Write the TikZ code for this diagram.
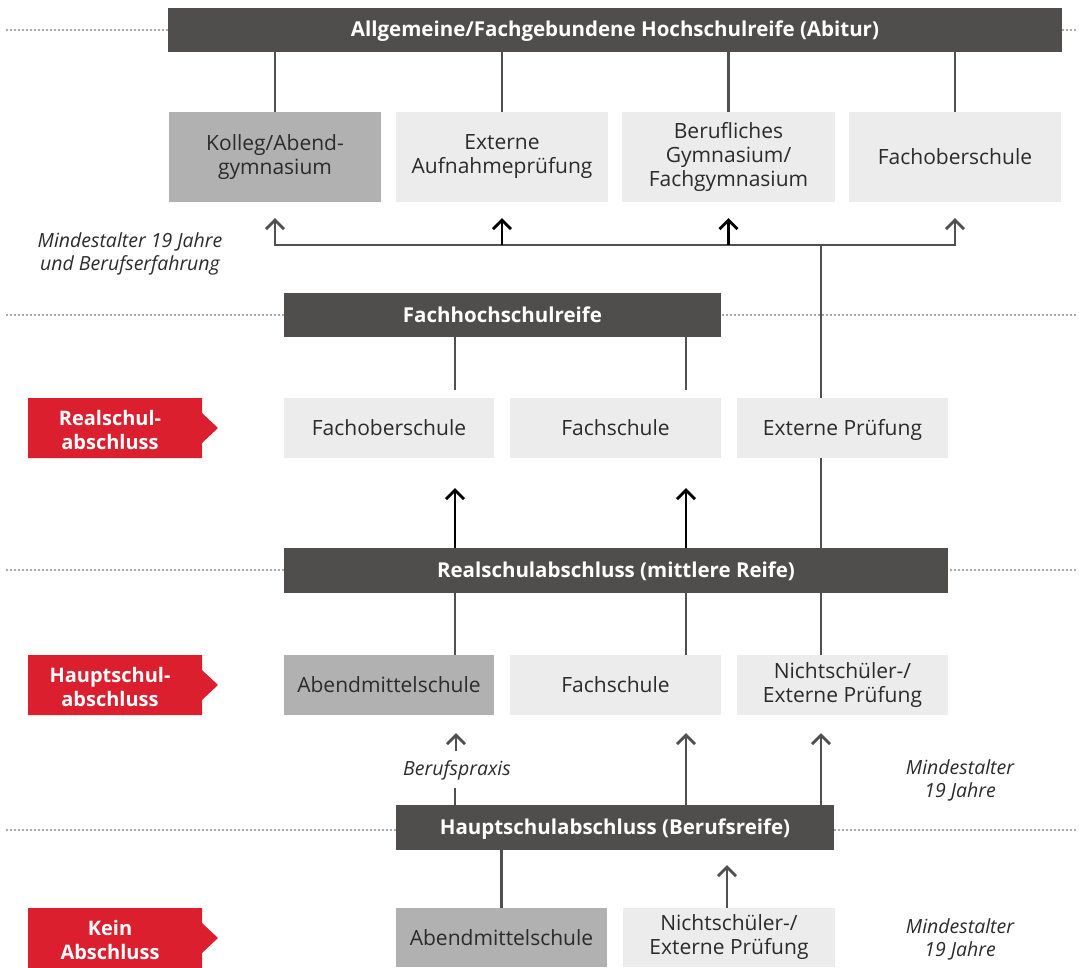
\documentclass[tikz,border=0pt]{standalone}
\usepackage{fontspec}
\setmainfont{Open Sans}
\usetikzlibrary{arrows.meta}
\definecolor{dark}{HTML}{4F4E4D}
\definecolor{lc}{HTML}{505050}
\definecolor{light}{HTML}{EBECEB}
\definecolor{mid}{HTML}{B0B1B0}
\definecolor{badgered}{HTML}{DC1F2E}
\definecolor{txt}{HTML}{2B2B2B}
\definecolor{dotc}{HTML}{AAAAAA}
\newcommand\boxstrut{\rule[-4.5pt]{0pt}{24pt}}
\newcommand\hdstrut{\rule[-4pt]{0pt}{22.5pt}}
\newcommand\mybadge[3]{%
  \fill[badgered] (28,{#1-30}) -- (202,{#1-30}) -- (202,{#1-15}) -- (218,#1) -- (202,{#1+15}) -- (202,{#1+30}) -- (28,{#1+30}) -- cycle;
  \node[badgetxt] (#2) at (110,{#1+4}) {#3};}
\begin{document}
\begin{tikzpicture}[x=1pt,y=-1pt,
  hd/.style={fill=dark, text=white, font=\fontsize{20.5}{24}\selectfont\bfseries, inner sep=0pt, minimum height=44pt, execute at begin node=\hdstrut, execute at end node=\hdstrut},
  box/.style={fill=light, text=txt, font=\fontsize{21}{24}\selectfont, align=center, inner sep=0pt, minimum width=211pt, minimum height=60pt, execute at begin node=\boxstrut, execute at end node=\boxstrut},
  dim/.style={box, fill=mid},
  note/.style={font=\fontsize{19.5}{23}\selectfont\itshape, text=txt, align=center, inner sep=0pt},
  badgetxt/.style={font=\fontsize{20}{24}\selectfont\bfseries, text=white, align=center, inner sep=0pt, execute at begin node=\boxstrut, execute at end node=\boxstrut},
  ln/.style={draw=lc, line width=2.8pt},
  arr/.style={ln, -{Straight Barb[length=9pt,width=18pt]}},
  blk/.style={arr, draw=black},
  dots/.style={draw=dotc, line width=1.5pt, dash pattern=on 1.5pt off 2.5pt}]
\useasboundingbox (0,0) rectangle (1079,967);
% dotted level lines
\draw[dots] (6,30) -- (1076,30);
\draw[dots] (6,315) -- (1076,315);
\draw[dots] (6,570) -- (1076,570);
\draw[dots] (6,830) -- (1076,830);
% top
\node[hd, minimum width=894pt] (abi) at (615,30) {Allgemeine/Fachgebundene Hochschulreife (Abitur)};
\node[dim, minimum height=90pt, minimum width=212pt] (kolleg) at (275,157) {Kolleg/Abend-\\gymnasium};
\node[box, minimum height=90pt, minimum width=212pt] (extA) at (502,157) {Externe\\Aufnahmeprüfung};
\node[box, minimum height=90pt, minimum width=213pt] (beruf) at (728.5,157) {Berufliches\\Gymnasium/\\Fachgymnasium};
\node[box, minimum height=90pt, minimum width=212pt] (fos1) at (955,157) {Fachoberschule};
\node[note] (n1) at (130,254) {Mindestalter 19 Jahre\\und Berufserfahrung};
% Fachhochschulreife level
\node[hd, minimum width=437pt] (fhr) at (502.5,315) {Fachhochschulreife};
\node[box, minimum width=210pt] (fos2) at (389,428) {Fachoberschule};
\node[box] (fs2) at (615.5,428) {Fachschule};
\node[box] (ep2) at (842.5,428) {Externe Prüfung};
\mybadge{428}{b1}{Realschul-\\abschluss}
% Realschulabschluss level
\node[hd, minimum width=664pt, minimum height=45pt] (rsa) at (616,570.5) {Realschulabschluss (mittlere Reife)};
\node[dim, minimum width=210pt] (ams3) at (389,685) {Abendmittelschule};
\node[box] (fs3) at (615.5,685) {Fachschule};
\node[box] (nep3) at (842.5,685) {Nichtschüler-/\\Externe Prüfung};
\mybadge{685}{b2}{Hauptschul-\\abschluss}
\node[note] (bp) at (457,770) {Berufspraxis};
\node[note] (n2) at (960,780) {Mindestalter\\19 Jahre};
% Hauptschulabschluss level
\node[hd, minimum width=438pt, minimum height=45pt] (hsa) at (615,827.5) {Hauptschulabschluss (Berufsreife)};
\node[dim, minimum height=59pt] (ams4) at (501.5,937.5) {Abendmittelschule};
\node[box, minimum height=59pt, minimum width=212pt] (nep4) at (729,937.5) {Nichtschüler-/\\Externe Prüfung};
\mybadge{938}{b3}{Kein\\Abschluss}
\node[note] (n3) at (960,939) {Mindestalter\\19 Jahre};
% helper coordinates
\coordinate (jL) at (275,245);
\coordinate (jR) at (955,245);
\coordinate (jM) at (821,245);
\coordinate (c455) at (455,0);
\coordinate (c686) at (686,0);
\coordinate (bpTop) at (456,751);
% connectors top
\draw[ln] (kolleg.north) -- (kolleg.north |- abi.south);
\draw[ln] (extA.north) -- (extA.north |- abi.south);
\draw[ln] (beruf.north) -- (beruf.north |- abi.south);
\draw[ln] (fos1.north) -- (fos1.north |- abi.south);
\draw[ln] ([xshift=-1.4pt]jL) -- ([xshift=1.4pt]jR);
\draw[arr, shorten >=16pt] (kolleg.south |- jL) -- (kolleg.south);
\draw[blk, shorten >=16pt] (extA.south |- jL) -- (extA.south);
\draw[blk, shorten >=16pt] (beruf.south |- jL) -- (beruf.south);
\draw[arr, shorten >=16pt] (fos1.south |- jL) -- (fos1.south);
\draw[ln] (jM) -- (jM |- ep2.north);
\draw[ln] (jM |- ep2.south) -- (jM |- rsa.north);
% Fachhochschulreife stubs
\draw[ln] (c455 |- fhr.south) -- ++(0,53);
\draw[ln] (c686 |- fhr.south) -- ++(0,53);
% Realschulabschluss arrows up
\draw[blk, shorten >=30pt] (c455 |- rsa.north) -- (c455 |- fos2.south);
\draw[blk, shorten >=30pt] (c686 |- rsa.north) -- (c686 |- fs2.south);
% Realschulabschluss lines down
\draw[ln] (c455 |- rsa.south) -- (c455 |- ams3.north);
\draw[ln] (c686 |- rsa.south) -- (c686 |- fs3.north);
\draw[ln] (jM |- rsa.south) -- (jM |- nep3.north);
% Hauptschulabschluss arrows up
\draw[ln] (c455 |- hsa.north) -- ++(0,-17);
\draw[arr, shorten >=18pt] (bpTop) -- (bpTop |- ams3.south);
\draw[arr, shorten >=18pt] (c686 |- hsa.north) -- (c686 |- fs3.south);
\draw[arr, shorten >=18pt] (jM |- hsa.north) -- (jM |- nep3.south);
% bottom
\draw[ln] (ams4.north) -- (ams4.north |- hsa.south);
\draw[arr, shorten >=15pt] ([xshift=-2pt]nep4.north) -- ([xshift=-2pt]nep4.north |- hsa.south);
\end{tikzpicture}
\end{document}
